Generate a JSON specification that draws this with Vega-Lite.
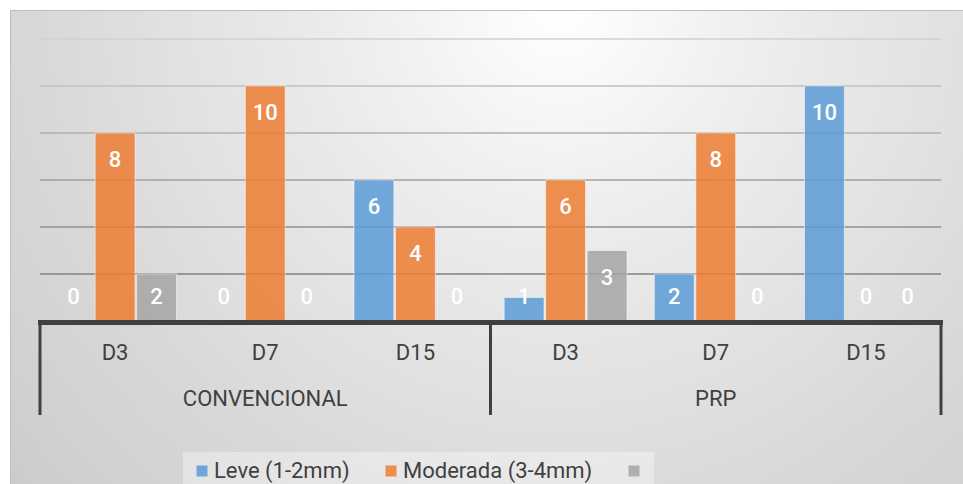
{
  "$schema": "https://vega.github.io/schema/vega-lite/v6.json",
  "width": 953,
  "height": 474,
  "autosize": {"type": "none"},
  "padding": {"left": 10, "top": 10, "right": 0, "bottom": 0},
  "background": "#ffffff",
  "view": {
    "stroke": "#bdbdbd",
    "strokeWidth": 1,
    "fill": {
      "gradient": "radial",
      "x1": 0.577, "y1": 0.251, "r1": 0,
      "x2": 0.577, "y2": 0.251, "r2": 0.84,
      "stops": [
        {"offset": 0, "color": "#ffffff"},
        {"offset": 0.2, "color": "#f1f1f1"},
        {"offset": 0.33, "color": "#e9e9e9"},
        {"offset": 0.49, "color": "#e1e1e1"},
        {"offset": 0.65, "color": "#d8d8d8"},
        {"offset": 0.81, "color": "#d1d1d1"},
        {"offset": 1, "color": "#c6c6c6"}
      ]
    }
  },
  "config": {"font": "Roboto"},
  "datasets": {
    "casos": [
      {"grupo": "CONVENCIONAL", "dia": "D3", "periodo": "CONVENCIONAL D3", "serie": "Leve (1-2mm)", "casos": 0},
      {"grupo": "CONVENCIONAL", "dia": "D3", "periodo": "CONVENCIONAL D3", "serie": "Moderada (3-4mm)", "casos": 8},
      {"grupo": "CONVENCIONAL", "dia": "D3", "periodo": "CONVENCIONAL D3", "serie": "", "casos": 2},
      {"grupo": "CONVENCIONAL", "dia": "D7", "periodo": "CONVENCIONAL D7", "serie": "Leve (1-2mm)", "casos": 0},
      {"grupo": "CONVENCIONAL", "dia": "D7", "periodo": "CONVENCIONAL D7", "serie": "Moderada (3-4mm)", "casos": 10},
      {"grupo": "CONVENCIONAL", "dia": "D7", "periodo": "CONVENCIONAL D7", "serie": "", "casos": 0},
      {"grupo": "CONVENCIONAL", "dia": "D15", "periodo": "CONVENCIONAL D15", "serie": "Leve (1-2mm)", "casos": 6},
      {"grupo": "CONVENCIONAL", "dia": "D15", "periodo": "CONVENCIONAL D15", "serie": "Moderada (3-4mm)", "casos": 4},
      {"grupo": "CONVENCIONAL", "dia": "D15", "periodo": "CONVENCIONAL D15", "serie": "", "casos": 0},
      {"grupo": "PRP", "dia": "D3", "periodo": "PRP D3", "serie": "Leve (1-2mm)", "casos": 1},
      {"grupo": "PRP", "dia": "D3", "periodo": "PRP D3", "serie": "Moderada (3-4mm)", "casos": 6},
      {"grupo": "PRP", "dia": "D3", "periodo": "PRP D3", "serie": "", "casos": 3},
      {"grupo": "PRP", "dia": "D7", "periodo": "PRP D7", "serie": "Leve (1-2mm)", "casos": 2},
      {"grupo": "PRP", "dia": "D7", "periodo": "PRP D7", "serie": "Moderada (3-4mm)", "casos": 8},
      {"grupo": "PRP", "dia": "D7", "periodo": "PRP D7", "serie": "", "casos": 0},
      {"grupo": "PRP", "dia": "D15", "periodo": "PRP D15", "serie": "Leve (1-2mm)", "casos": 10},
      {"grupo": "PRP", "dia": "D15", "periodo": "PRP D15", "serie": "Moderada (3-4mm)", "casos": 0},
      {"grupo": "PRP", "dia": "D15", "periodo": "PRP D15", "serie": "", "casos": 0}
    ],
    "niveles": [
      {"nivel": 2}, {"nivel": 4}, {"nivel": 6}, {"nivel": 8}, {"nivel": 10}, {"nivel": 12}
    ]
  },
  "data": {"name": "casos"},
  "layer": [
    {
      "data": {"name": "niveles"},
      "mark": {"type": "rule", "strokeWidth": 1.5},
      "encoding": {
        "x": {"datum": "CONVENCIONAL D3", "type": "nominal", "bandPosition": 0, "axis": null},
        "x2": {"datum": "PRP D15", "bandPosition": 1},
        "y": {"field": "nivel", "type": "quantitative", "axis": null},
        "stroke": {
          "field": "nivel", "type": "quantitative", "legend": null,
          "scale": {"domain": [2, 12], "range": ["#828282", "#d0d0d0"]}
        }
      }
    },
    {
      "mark": {"type": "bar", "fillOpacity": 0.85, "stroke": "#ffffff", "strokeOpacity": 0.5, "strokeWidth": 1},
      "encoding": {
        "x": {
          "field": "periodo", "type": "nominal", "sort": null, "axis": null,
          "scale": {
            "domain": ["CONVENCIONAL D3", "CONVENCIONAL D7", "CONVENCIONAL D15", "PRP D3", "PRP D7", "PRP D15"],
            "range": [30, 931], "paddingInner": 0, "paddingOuter": 0
          }
        },
        "xOffset": {
          "field": "serie", "type": "nominal",
          "scale": {"domain": ["Leve (1-2mm)", "Moderada (3-4mm)", ""], "paddingInner": 0.04, "paddingOuter": 0.33}
        },
        "y": {
          "field": "casos", "type": "quantitative", "axis": null,
          "scale": {"domain": [0, 12], "range": [311, 29], "nice": false}
        },
        "color": {
          "field": "serie", "type": "nominal",
          "scale": {"domain": ["Leve (1-2mm)", "Moderada (3-4mm)", ""], "range": ["#5B9BD5", "#ED7D31", "#A5A5A5"]},
          "legend": {
            "orient": "none", "legendX": 173, "legendY": 442, "direction": "horizontal",
            "title": null, "symbolType": "square", "symbolSize": 121, "symbolStrokeWidth": 0,
            "symbolOpacity": 0.85, "labelFont": "Roboto", "labelFontSize": 22, "labelColor": "#404040",
            "labelOffset": 1, "labelLimit": 300, "columnPadding": 30, "padding": 8,
            "fillColor": "rgba(255,255,255,0.35)"
          }
        }
      }
    },
    {
      "transform": [{"filter": "datum.casos >= 3"}],
      "mark": {"type": "text", "baseline": "middle", "dy": 27, "fontSize": 22, "fontWeight": 500, "fill": "#ffffff"},
      "encoding": {
        "x": {"field": "periodo", "type": "nominal", "axis": null},
        "xOffset": {"field": "serie", "type": "nominal"},
        "y": {"field": "casos", "type": "quantitative", "axis": null},
        "text": {"field": "casos", "type": "quantitative"}
      }
    },
    {
      "transform": [{"filter": "datum.casos < 3"}],
      "mark": {"type": "text", "baseline": "middle", "dy": -24, "fontSize": 22, "fontWeight": 500, "fill": "#ffffff"},
      "encoding": {
        "x": {"field": "periodo", "type": "nominal", "axis": null},
        "xOffset": {"field": "serie", "type": "nominal"},
        "y": {"datum": 0, "type": "quantitative", "axis": null},
        "text": {"field": "casos", "type": "quantitative"}
      }
    },
    {
      "mark": {"type": "rule", "color": "#404040", "strokeWidth": 3.5, "strokeCap": "square"},
      "encoding": {
        "x": {"datum": "CONVENCIONAL D3", "type": "nominal", "bandPosition": 0, "axis": null},
        "x2": {"datum": "PRP D15", "bandPosition": 1},
        "y": {"datum": -0.064, "type": "quantitative", "axis": null}
      }
    },
    {
      "transform": [{"filter": "datum.dia == 'D3' && datum.serie == 'Leve (1-2mm)'"}],
      "mark": {"type": "rule", "color": "#404040", "strokeWidth": 3},
      "encoding": {
        "x": {"field": "periodo", "type": "nominal", "bandPosition": 0, "axis": null},
        "y": {"datum": 0, "type": "quantitative", "axis": null},
        "y2": {"datum": -4}
      }
    },
    {
      "transform": [{"filter": "datum.periodo == 'PRP D15' && datum.serie == 'Leve (1-2mm)'"}],
      "mark": {"type": "rule", "color": "#404040", "strokeWidth": 3},
      "encoding": {
        "x": {"field": "periodo", "type": "nominal", "bandPosition": 1, "axis": null},
        "y": {"datum": 0, "type": "quantitative", "axis": null},
        "y2": {"datum": -4}
      }
    },
    {
      "transform": [{"filter": "datum.serie == 'Leve (1-2mm)'"}],
      "mark": {"type": "text", "baseline": "top", "fontSize": 22, "fill": "#404040"},
      "encoding": {
        "x": {"field": "periodo", "type": "nominal", "axis": null},
        "y": {"datum": -0.95, "type": "quantitative", "axis": null},
        "text": {"field": "dia", "type": "nominal"}
      }
    },
    {
      "transform": [{"filter": "datum.dia == 'D7' && datum.serie == 'Leve (1-2mm)'"}],
      "mark": {"type": "text", "baseline": "top", "fontSize": 22, "fill": "#404040"},
      "encoding": {
        "x": {"field": "periodo", "type": "nominal", "axis": null},
        "y": {"datum": -2.9, "type": "quantitative", "axis": null},
        "text": {"field": "grupo", "type": "nominal"}
      }
    }
  ]
}
